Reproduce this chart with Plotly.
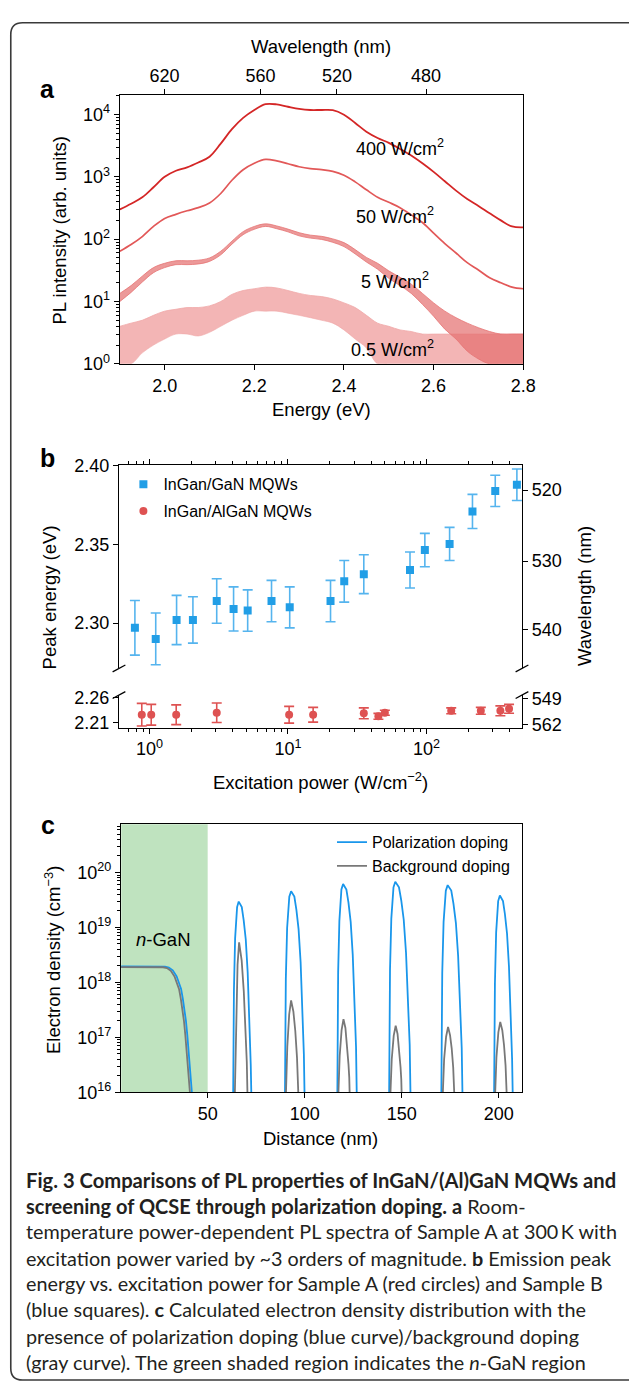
import plotly.graph_objects as go

W, H = 629, 1393


def px(x):
    return x / W


def py(y):
    return 1 - y / H


FONT = "Liberation Sans, Arial, sans-serif"
CAP_FONT = "Lato, Open Sans, sans-serif"

# ---------------- Panel a: PL spectra ----------------
energy_ev = [1.900, 1.925, 1.950, 1.975, 2.000, 2.025, 2.050, 2.075, 2.100, 2.125,
             2.150, 2.175, 2.200, 2.225, 2.250, 2.275, 2.300, 2.325, 2.350, 2.375,
             2.400, 2.425, 2.450, 2.475, 2.500, 2.525, 2.550, 2.575, 2.600, 2.625,
             2.650, 2.675, 2.700, 2.725, 2.750, 2.775, 2.800]
pl_400 = [300, 370, 470, 680, 1000, 1250, 1420, 1700, 2100, 3400,
          5800, 8800, 11800, 14600, 14500, 13300, 12300, 11800, 11800, 11700,
          9900, 7300, 5300, 4200, 3500, 2800, 2200, 1650, 1200, 850,
          600, 440, 340, 260, 200, 160, 155]
pl_50 = [64, 82, 110, 160, 215, 250, 285, 320, 380, 540,
         880, 1300, 1650, 1900, 1800, 1620, 1450, 1350, 1300, 1220,
         1060, 830, 620, 470, 390, 320, 245, 185, 125, 85,
         60, 42, 32, 24, 20, 17, 16]
pl_5_low = [10, 14, 20.5, 29, 35, 39, 39, 40, 44, 56,
            83, 118, 144, 160, 147, 131, 113, 104, 99, 89,
            76, 58, 43, 33, 23.5, 18, 13.5, 9, 5.8, 3.6,
            2.5, 1.6, 1.2, 1, 1, 1, 1]
pl_5_high = [13.5, 18, 25.5, 35, 41, 45, 45, 46, 50, 64,
             93, 132, 160, 176, 163, 145, 127, 116, 111, 101,
             88, 68, 51, 41, 31, 24.5, 19, 13.5, 9.5, 7,
             5.5, 4.5, 3.8, 3.3, 3, 3, 3]
pl_05_low = [1, 1, 1.5, 2, 2.5, 3, 3, 2.8, 3.2, 4,
             5, 6, 7, 7, 7, 6.5, 6, 5.5, 5, 4.5,
             3.5, 2.5, 1.8, 1, 1, 1, 1, 1, 1, 1,
             1, 1, 1, 1, 1, 1, 1]
pl_05_high = [4, 4.5, 5, 6, 7, 7.5, 8, 8, 8.5, 10,
              13, 15, 16, 17, 16.5, 15, 13.5, 12.5, 12, 11,
              9.5, 8, 6, 4.5, 4, 3.5, 3.3, 3, 3, 3,
              3, 3, 3, 3, 3, 3, 3]
energy_ticks = [2.0, 2.2, 2.4, 2.6, 2.8]
energy_range = [1.9, 2.8]
wavelength_ticks_nm = [620, 560, 520, 480]
pl_log_ticks = [1, 10, 100, 1000, 10000]
pl_labels = ["400 W/cm<sup>2</sup>", "50 W/cm<sup>2</sup>",
             "5 W/cm<sup>2</sup>", "0.5 W/cm<sup>2</sup>"]

# ---------------- Panel b: peak energy ----------------
gan_power = [0.785, 1.11, 1.57, 2.06, 3.06, 4.05, 5.12, 7.61, 10.3, 20.3,
             25.5, 35.3, 76.1, 97.4, 147, 215, 314, 450]
gan_energy = [2.297, 2.290, 2.302, 2.302, 2.314, 2.309, 2.308, 2.314, 2.310, 2.314,
              2.3265, 2.331, 2.3337, 2.3463, 2.3502, 2.3708, 2.3838, 2.3877]
gan_err = [0.0173, 0.0164, 0.0156, 0.0147, 0.0141, 0.0140, 0.0131, 0.0131, 0.0130, 0.0131,
           0.0132, 0.0123, 0.0114, 0.0106, 0.0105, 0.0108, 0.0099, 0.0100]
algan_power = [0.88, 1.03, 1.56, 3.06, 10.2, 15.2, 35.3, 45, 50.1, 151, 247, 342, 395]
algan_energy = [2.226, 2.226, 2.226, 2.230, 2.226, 2.226, 2.229, 2.2227, 2.230,
                2.234, 2.234, 2.234, 2.238]
algan_err = [0.023, 0.021, 0.020, 0.0197, 0.017, 0.015, 0.011, 0.006, 0.005,
             0.006, 0.007, 0.010, 0.009]
b_upper_ticks = [2.30, 2.35, 2.40]
b_lower_ticks = [2.21, 2.26]
b_upper_wl_ticks = [520, 530, 540]
b_lower_wl_ticks = [549, 562]
b_x_ticks = [1, 10, 100]

# ---------------- Panel c: electron density ----------------
dist_polar = [0, 28, 30, 32, 34, 35.2, 36.3, 37.2, 38.1, 38.8, 39.5, 40.2, 40.9, 41.6, 42.3, None,
              63.1, 63.54, 64.14, 65.16, 66.0, 67.58, 68.57, 69.63, 70.62, 71.61, 72.20, 72.6, None,
              89.8, 90.28, 90.95, 92.07, 93.0, 94.68, 95.73, 96.85, 97.90, 98.95, 99.58, 100.0, None,
              116.8, 117.25, 117.88, 118.93, 119.8, 121.50, 122.57, 123.71, 124.77, 125.84, 126.47, 126.9, None,
              143.5, 143.98, 144.65, 145.77, 146.7, 148.60, 149.78, 151.05, 152.23, 153.42, 154.13, 154.6, None,
              170.4, 170.90, 171.59, 172.74, 173.7, 175.55, 176.70, 177.94, 179.09, 180.25, 180.94, 181.4, None,
              197.6, 198.05, 198.68, 199.73, 200.6, 202.21, 203.21, 204.29, 205.29, 206.30, 206.90, 207.3]
log_dens_polar = [18.29, 18.285, 18.27, 18.22, 18.11, 18.0, 17.88, 17.7, 17.48, 17.3, 17.04, 16.78, 16.5, 16.25, 15.8, None,
                  15.8, 17.87, 18.80, 19.37, 19.47, 19.37, 19.13, 18.78, 18.18, 17.28, 16.50, 15.8, None,
                  15.8, 18.06, 18.99, 19.56, 19.66, 19.56, 19.32, 18.97, 18.37, 17.47, 16.69, 15.8, None,
                  15.8, 18.19, 19.12, 19.69, 19.79, 19.69, 19.45, 19.10, 18.50, 17.60, 16.82, 15.8, None,
                  15.8, 18.23, 19.16, 19.73, 19.83, 19.73, 19.49, 19.14, 18.54, 17.64, 16.86, 15.8, None,
                  15.8, 18.17, 19.10, 19.67, 19.77, 19.67, 19.43, 19.08, 18.48, 17.58, 16.80, 15.8, None,
                  15.8, 17.98, 18.91, 19.48, 19.58, 19.48, 19.24, 18.89, 18.29, 17.39, 16.61, 15.8]
dist_background = [0, 27, 29, 31, 33, 34.2, 35.3, 36.2, 37.1, 37.8, 38.5, 39.2, 39.9, 40.6, 41.3, None,
                   63.9, 64.59, 65.40, 66.2, 67.52, 68.62, 69.63, 70.16, 70.6, None,
                   90.2, 91.04, 92.02, 93.0, 94.17, 95.15, 96.04, 96.51, 96.9, None,
                   117.2, 118.04, 119.02, 120.0, 120.99, 121.82, 122.57, 122.97, 123.3, None,
                   144.0, 144.87, 145.89, 146.9, 147.86, 148.66, 149.40, 149.78, 150.1, None,
                   171.0, 171.87, 172.89, 173.9, 174.92, 175.77, 176.55, 176.96, 177.3, None,
                   198.0, 198.84, 199.82, 200.8, 201.85, 202.73, 203.53, 203.95, 204.3]
log_dens_background = [18.28, 18.275, 18.26, 18.21, 18.10, 17.99, 17.87, 17.69, 17.47, 17.29, 17.03, 16.77, 16.49, 16.24, 15.8, None,
                       15.8, 17.36, 18.32, 18.73, 18.40, 17.83, 17.04, 16.55, 15.8, None,
                       15.8, 16.83, 17.42, 17.67, 17.47, 17.12, 16.63, 16.33, 15.8, None,
                       15.8, 16.66, 17.13, 17.33, 17.17, 16.89, 16.51, 16.27, 15.8, None,
                       15.8, 16.60, 17.03, 17.21, 17.06, 16.81, 16.46, 16.24, 15.8, None,
                       15.8, 16.60, 17.01, 17.19, 17.04, 16.80, 16.45, 16.24, 15.8, None,
                       15.8, 16.64, 17.09, 17.28, 17.13, 16.86, 16.49, 16.26, 15.8]
c_x_range = [5.4, 212]
c_x_ticks = [50, 100, 150, 200]
c_log_range = [16, 20.88]
c_y_ticks_exp = [16, 17, 18, 19, 20]
ngan_end_nm = 50

caption_lines = [
    "<b>Fig. 3 Comparisons of PL properties of InGaN/(Al)GaN MQWs and</b>",
    "<b>screening of QCSE through polarization doping. a</b> Room-",
    "temperature power-dependent PL spectra of Sample A at 300\u2009K with",
    "excitation power varied by ~3 orders of magnitude. <b>b</b> Emission peak",
    "energy vs. excitation power for Sample A (red circles) and Sample B",
    "(blue squares). <b>c</b> Calculated electron density distribution with the",
    "presence of polarization doping (blue curve)/background doping",
    "(gray curve). The green shaded region indicates the <i>n</i>-GaN region",
]

HC = 1239.84  # eV*nm


def tolin(vals):
    return [None if v is None else 10.0 ** v for v in vals]


C400 = "rgb(212,38,38)"
C50 = "rgb(226,88,88)"
C5 = "rgb(230,115,115)"
C05 = "rgb(240,168,168)"
BLUE = "rgb(33,158,230)"
BLUE_ERR = "rgb(85,180,238)"
RED = "rgb(222,82,82)"
LBLUE = "rgb(25,150,235)"
GRAY = "rgb(120,120,120)"

fig = go.Figure()
hidden = dict(mode="lines", line=dict(width=0), opacity=0, showlegend=False, hoverinfo="skip")

# ---- panel a traces ----
fig.add_trace(go.Scatter(x=energy_ev, y=pl_05_low, mode="lines", line=dict(color=C05, width=0.6, shape="spline"),
                         showlegend=False, hoverinfo="skip", xaxis="x", yaxis="y"))
fig.add_trace(go.Scatter(x=energy_ev, y=pl_05_high, mode="lines", line=dict(color=C05, width=0.8, shape="spline"),
                         fill="tonexty", fillcolor="rgba(240,162,162,0.8)",
                         showlegend=False, hoverinfo="skip", xaxis="x", yaxis="y"))
fig.add_trace(go.Scatter(x=energy_ev, y=pl_5_low, mode="lines", line=dict(color=C5, width=0.8, shape="spline"),
                         showlegend=False, hoverinfo="skip", xaxis="x", yaxis="y"))
fig.add_trace(go.Scatter(x=energy_ev, y=pl_5_high, mode="lines", line=dict(color=C5, width=0.8, shape="spline"),
                         fill="tonexty", fillcolor="rgba(228,110,110,0.7)",
                         showlegend=False, hoverinfo="skip", xaxis="x", yaxis="y"))
fig.add_trace(go.Scatter(x=energy_ev, y=pl_50, mode="lines", line=dict(color=C50, width=1.7, shape="spline"),
                         showlegend=False, hoverinfo="skip", xaxis="x", yaxis="y"))
fig.add_trace(go.Scatter(x=energy_ev, y=pl_400, mode="lines", line=dict(color=C400, width=1.8, shape="spline"),
                         showlegend=False, hoverinfo="skip", xaxis="x", yaxis="y"))
# attaches the top wavelength axis
fig.add_trace(go.Scatter(x=energy_ev, y=pl_400, xaxis="x2", yaxis="y", **hidden))

# ---- panel b traces ----
fig.add_trace(go.Scatter(x=gan_power, y=gan_energy, mode="markers", name="InGan/GaN MQWs",
                         marker=dict(symbol="square", size=8, color=BLUE),
                         error_y=dict(type="data", array=gan_err, color=BLUE_ERR, thickness=1.6, width=5),
                         xaxis="x4", yaxis="y2", legend="legend", legendgroup="g1"))
fig.add_trace(go.Scatter(x=algan_power, y=algan_energy, mode="markers", name="InGan/AlGaN MQWs",
                         marker=dict(symbol="circle", size=8, color=RED),
                         error_y=dict(type="data", array=algan_err, color=RED, thickness=1.6, width=5),
                         xaxis="x3", yaxis="y3", legend="legend", legendgroup="g2"))
# attach the right-hand wavelength axes of panel b
fig.add_trace(go.Scatter(x=gan_power, y=gan_energy, xaxis="x4", yaxis="y4", **hidden))
fig.add_trace(go.Scatter(x=algan_power, y=algan_energy, xaxis="x3", yaxis="y5", **hidden))

# ---- panel c traces ----
fig.add_trace(go.Scatter(x=dist_polar, y=tolin(log_dens_polar), mode="lines", name="Polarization doping",
                         line=dict(color=LBLUE, width=1.8), connectgaps=False,
                         xaxis="x5", yaxis="y6", legend="legend2"))
fig.add_trace(go.Scatter(x=dist_background, y=tolin(log_dens_background), mode="lines",
                         name="Background doping", line=dict(color=GRAY, width=1.8), connectgaps=False,
                         xaxis="x5", yaxis="y6", legend="legend2"))

tickfont = dict(family=FONT, size=18, color="black")
common = dict(showline=True, linecolor="black", linewidth=1.4, ticks="outside", ticklen=5,
              tickwidth=1.3, tickcolor="black", showgrid=False, zeroline=False, tickfont=tickfont)
minor_style = dict(ticks="outside", ticklen=3, tickwidth=1, tickcolor="black", showgrid=False)


def sup_ticks(exps):
    return ["10<sup>%d</sup>" % e for e in exps]


a_minor = [m * 10.0 ** d for d in range(0, 5) for m in range(2, 10)]
b_minor = [m * 10.0 ** d for d in range(-1, 3) for m in range(2, 10)]
c_minor = [m * 10.0 ** d for d in range(16, 21) for m in range(2, 10)]

fig.update_layout(
    width=W, height=H, margin=dict(l=0, r=0, t=0, b=0),
    paper_bgcolor="white", plot_bgcolor="rgba(0,0,0,0)",
    font=dict(family=FONT, color="black"),
    xaxis=dict(**common, domain=[px(122.4), px(534.3)], anchor="y", range=energy_range,
               tickvals=energy_ticks, ticktext=["%.1f" % v for v in energy_ticks], mirror=True),
    xaxis2=dict(overlaying="x", side="top", anchor="y", range=energy_range,
                tickvals=[HC / w for w in wavelength_ticks_nm],
                ticktext=[str(w) for w in wavelength_ticks_nm],
                ticks="outside", ticklen=5, tickwidth=1.3, tickcolor="black",
                showline=False, showgrid=False, zeroline=False, tickfont=tickfont),
    yaxis=dict(**common, type="log", domain=[py(359), py(86)], anchor="x", range=[0, 4.316],
               tickvals=pl_log_ticks, ticktext=sup_ticks([0, 1, 2, 3, 4]), mirror=True,
               minor=dict(**minor_style, tickmode="array", tickvals=a_minor)),
    xaxis3=dict(**common, type="log", domain=[px(121.5), px(533)], anchor="y3", range=[-0.22, 2.69],
                tickvals=b_x_ticks, ticktext=sup_ticks([0, 1, 2]),
                minor=dict(**minor_style, tickmode="array", tickvals=b_minor)),
    xaxis4=dict(**common, type="log", domain=[px(121.5), px(533)], anchor="y2", side="top",
                range=[-0.22, 2.69], tickvals=b_x_ticks, showticklabels=False,
                minor=dict(**minor_style, tickmode="array", tickvals=b_minor)),
    yaxis2=dict(**common, domain=[py(668), py(462)], anchor="x4", range=[2.2713, 2.40],
                tickvals=b_upper_ticks, ticktext=["%.2f" % v for v in b_upper_ticks]),
    yaxis3=dict(**common, domain=[py(728), py(695)], anchor="x3", range=[2.200, 2.266],
                tickvals=b_lower_ticks, ticktext=["%.2f" % v for v in b_lower_ticks]),
    yaxis4=dict(**common, overlaying="y2", side="right", anchor="x4", range=[2.2713, 2.40],
                tickvals=[HC / w for w in b_upper_wl_ticks], ticktext=[str(w) for w in b_upper_wl_ticks]),
    yaxis5=dict(**common, overlaying="y3", side="right", anchor="x3", range=[2.200, 2.266],
                tickvals=[HC / w for w in b_lower_wl_ticks], ticktext=[str(w) for w in b_lower_wl_ticks]),
    xaxis5=dict(**common, domain=[px(123.7), px(533)], anchor="y6", range=c_x_range,
                tickvals=c_x_ticks, mirror=True),
    yaxis6=dict(**common, type="log", domain=[py(1098), py(826)], anchor="x5", range=c_log_range,
                tickvals=[10.0 ** e for e in c_y_ticks_exp], ticktext=sup_ticks(c_y_ticks_exp), mirror=True,
                minor=dict(**minor_style, tickmode="array", tickvals=c_minor)),
    legend=dict(x=px(126), y=py(464), xanchor="left", yanchor="top", bgcolor="rgba(0,0,0,0)",
                font=dict(family=FONT, size=16), tracegroupgap=3, traceorder="grouped"),
    legend2=dict(x=px(339), y=py(827), xanchor="left", yanchor="top", bgcolor="rgba(0,0,0,0)",
                 font=dict(family=FONT, size=16)),
)

# green n-GaN region
fig.add_shape(type="rect", xref="x5", yref="y6 domain", x0=c_x_range[0], x1=ngan_end_nm, y0=0, y1=1,
              fillcolor="rgb(191,227,191)", line=dict(width=0), layer="below")

# outer rounded frame
r = 12
x0f, y0f, y1f, xr = 11, 13, 1390, 660
path = ("M %f,%f L %f,%f Q %f,%f %f,%f L %f,%f Q %f,%f %f,%f L %f,%f" % (
    px(xr), py(y0f), px(x0f + r), py(y0f), px(x0f), py(y0f), px(x0f), py(y0f + r),
    px(x0f), py(y1f - r), px(x0f), py(y1f), px(x0f + r), py(y1f), px(xr), py(y1f)))
fig.add_shape(type="path", xref="paper", yref="paper", path=path, line=dict(color="#3a3a3a", width=1.6))

# axis-break marks for panel b
for xs in (121.5, 533):
    for yc in (668, 695):
        fig.add_shape(type="line", xref="paper", yref="paper", x0=px(xs - 6.5), y0=py(yc + 3.5),
                      x1=px(xs + 6.5), y1=py(yc - 3.5), line=dict(color="black", width=1.3))

ann = []


def text(x, y, s, size=18.5, xanchor="center", yanchor="middle", angle=0, font=FONT):
    ann.append(dict(x=px(x), y=py(y), xref="paper", yref="paper", text=s, showarrow=False,
                    xanchor=xanchor, yanchor=yanchor, textangle=angle,
                    font=dict(family=font, size=size, color="black")))


# panel letters
text(49, 80, "<b>a</b>", size=25)
text(49, 455, "<b>b</b>", size=25)
text(49, 827, "<b>c</b>", size=25)

# panel a titles & labels
text(328, 37, "Wavelength (nm)")
text(328, 405, "Energy (eV)")
text(61, 223, "PL intensity (arb. units)", angle=-90)
for (lx, ly), lab in zip([(408, 140), (403, 209), (403, 274), (401, 343)], pl_labels):
    text(lx, ly, lab, size=18)

# panel b titles
text(50, 596, "Peak energy (eV)", angle=-90)
text(597, 595, "Wavelength (nm)", angle=-90)
text(327, 782, "Excitation power (W/cm<sup>\u22122</sup>)")

# panel c titles
text(54, 963, "Electron density (cm<sup>\u22123</sup>)", angle=-90)
text(327, 1145, "Distance (nm)")
text(167, 943, "<i>n</i>-GaN")

# caption
cap_y = [1187, 1213, 1239, 1266, 1292, 1318, 1345, 1372]
cap_sizes = [20.2, 20.0, 19.8, 19.8, 19.8, 19.8, 19.8, 19.8]
for yy, line, fs in zip(cap_y, caption_lines, cap_sizes):
    ann.append(dict(x=px(25), y=py(yy), xref="paper", yref="paper", text=line, showarrow=False,
                    xanchor="left", yanchor="middle",
                    font=dict(family=CAP_FONT, size=fs, color="#231f20")))

fig.update_layout(annotations=ann)

fig.write_html("out.html", config={"displayModeBar": False},
               post_script="document.body.style.margin='0';")
